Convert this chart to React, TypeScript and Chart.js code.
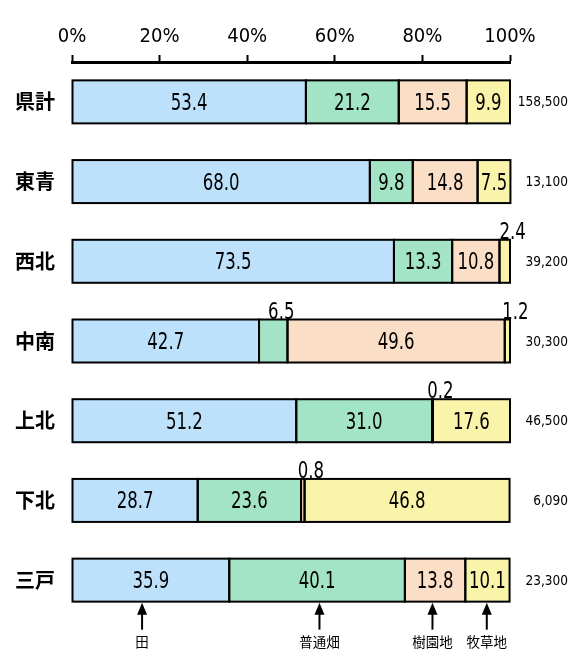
import { useEffect, useRef } from "react";
import { Chart, registerables } from "chart.js";

Chart.register(...registerables);

const categories = ["県計", "東青", "西北", "中南", "上北", "下北", "三戸"];
const totals = ["158,500", "13,100", "39,200", "30,300", "46,500", "6,090", "23,300"];
const seriesNames = ["田", "普通畑", "樹園地", "牧草地"];
const paddy = [53.4, 68.0, 73.5, 42.7, 51.2, 28.7, 35.9];
const upland = [21.2, 9.8, 13.3, 6.5, 31.0, 23.6, 40.1];
const orchard = [15.5, 14.8, 10.8, 49.6, 0.2, 0.8, 13.8];
const pasture = [9.9, 7.5, 2.4, 1.2, 17.6, 46.8, 10.1];
const xTicks = [0, 20, 40, 60, 80, 100];
const arrowTargets = [16, 56.5, 82.3, 94.7];
const seriesColors = ["#BDE0FB", "#A3E4C6", "#FADEC6", "#FAF3AA"];

const NUM_FONT = "'DejaVu Sans Condensed', 'Liberation Sans', sans-serif";
const JP_FONT = "'Noto Sans CJK JP', 'Noto Sans', sans-serif";

function narrowText(ctx: any, txt: string, x: number, y: number) {
  ctx.save();
  ctx.translate(x, y);
  ctx.scale(0.8, 1);
  ctx.fillText(txt, 0, 0);
  ctx.restore();
}

const overlayPlugin = {
  id: "overlay",
  afterDatasetsDraw(chart: any) {
    const ctx = chart.ctx;
    ctx.save();
    ctx.strokeStyle = "#000";
    ctx.lineWidth = 2;
    chart.data.datasets.forEach((_ds: any, di: number) => {
      const meta = chart.getDatasetMeta(di);
      meta.data.forEach((el: any) => {
        const { x, y, base, height } = el.getProps(["x", "y", "base", "height"], true);
        const left = Math.min(x, base);
        const w = Math.abs(x - base);
        ctx.strokeRect(left, y - height / 2, w, height);
      });
    });
    ctx.fillStyle = "#000";
    ctx.font = `23px ${NUM_FONT}`;
    ctx.textAlign = "center";
    chart.data.datasets.forEach((ds: any, di: number) => {
      const meta = chart.getDatasetMeta(di);
      meta.data.forEach((el: any, i: number) => {
        const v = ds.data[i];
        const { x, y, base, height } = el.getProps(["x", "y", "base", "height"], true);
        const cx = (x + base) / 2;
        const txt = v.toFixed(1);
        if (v >= 7) {
          ctx.textBaseline = "middle";
          narrowText(ctx, txt, cx, y + 2);
        } else {
          ctx.textBaseline = "alphabetic";
          narrowText(ctx, txt, cx + 8, y - height / 2 - 1);
        }
      });
    });
    ctx.restore();
  },
  afterDraw(chart: any) {
    const ctx = chart.ctx;
    const xs = chart.scales.x;
    ctx.save();
    ctx.fillStyle = "#000";
    ctx.font = `13.5px ${NUM_FONT}`;
    ctx.textAlign = "right";
    ctx.textBaseline = "middle";
    const meta0 = chart.getDatasetMeta(0);
    meta0.data.forEach((el: any, i: number) => {
      ctx.fillText(totals[i], 568, el.y + 1);
    });
    const lastEl: any = meta0.data[meta0.data.length - 1];
    const barBottom = lastEl.y + lastEl.height / 2 + 1;
    ctx.strokeStyle = "#000";
    ctx.lineWidth = 2;
    ctx.font = `13.5px ${JP_FONT}`;
    ctx.textAlign = "center";
    ctx.textBaseline = "middle";
    arrowTargets.forEach((p, k) => {
      const ax = xs.getPixelForValue(p);
      ctx.beginPath();
      ctx.moveTo(ax, barBottom + 8);
      ctx.lineTo(ax, barBottom + 27);
      ctx.stroke();
      ctx.beginPath();
      ctx.moveTo(ax, barBottom);
      ctx.lineTo(ax - 5, barBottom + 12);
      ctx.lineTo(ax + 5, barBottom + 12);
      ctx.closePath();
      ctx.fill();
      ctx.fillText(seriesNames[k], ax, barBottom + 39);
    });
    ctx.restore();
  },
};

export default function App() {
  const ref = useRef<HTMLCanvasElement>(null);
  useEffect(() => {
    if (!ref.current) return;
    const seriesData = [paddy, upland, orchard, pasture];
    const chart = new Chart(ref.current, {
      type: "bar",
      data: {
        labels: categories,
        datasets: seriesNames.map((name, k) => ({
          label: name,
          data: seriesData[k],
          backgroundColor: seriesColors[k],
          borderWidth: 0,
          barThickness: 43,
        })),
      },
      options: {
        indexAxis: "y",
        animation: false,
        responsive: true,
        maintainAspectRatio: false,
        layout: { padding: { left: 0, right: 66, top: 0, bottom: 30 } },
        plugins: { legend: { display: false }, tooltip: { enabled: false } },
        scales: {
          x: {
            type: "linear",
            position: "top",
            stacked: true,
            min: 0,
            max: 100,
            afterBuildTicks: (s: any) => {
              s.ticks = xTicks.map((v) => ({ value: v }));
            },
            afterFit: (s: any) => {
              s.height = 62;
            },
            ticks: {
              color: "#000",
              font: { family: NUM_FONT, size: 20 },
              padding: 6,
              callback: (v: any) => `${v}%`,
            },
            grid: {
              drawOnChartArea: false,
              drawTicks: true,
              tickLength: 7,
              tickColor: "#000",
              tickWidth: 2,
            },
            border: { display: true, color: "#000", width: 3 },
          },
          y: {
            type: "category",
            stacked: true,
            afterFit: (s: any) => {
              s.width = 72;
            },
            ticks: {
              color: "#000",
              font: { family: JP_FONT, size: 20, weight: "bold" },
              padding: 9,
            },
            grid: { display: false },
            border: { display: false },
          },
        },
      },
      plugins: [overlayPlugin],
    });
    return () => chart.destroy();
  }, []);
  return (
    <div style={{ position: "absolute", left: 0, top: 0, width: 576, height: 650, background: "#fff" }}>
      <canvas ref={ref} />
    </div>
  );
}
